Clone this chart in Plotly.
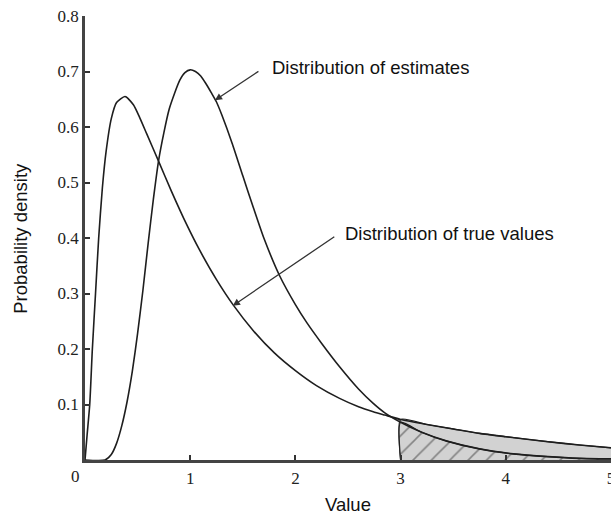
import plotly.graph_objects as go

# Density curves (value, probability density)
true_x = [0.00, 0.02, 0.045, 0.07, 0.10, 0.13, 0.165, 0.20, 0.25, 0.30, 0.38, 0.46, 0.52,
          0.586, 0.70, 0.82, 0.967, 1.09, 1.25, 1.41, 1.60, 1.80, 2.00, 2.20, 2.42, 2.60,
          2.74, 2.85, 3.00, 3.25, 3.50, 3.75, 4.00, 4.40, 4.70, 5.00]
true_y = [0.000, 0.045, 0.100, 0.200, 0.300, 0.400, 0.490, 0.555, 0.615, 0.644, 0.655, 0.640, 0.617,
          0.588, 0.538, 0.485, 0.424, 0.378, 0.325, 0.279, 0.233, 0.193, 0.161, 0.134, 0.111, 0.096,
          0.087, 0.081, 0.073, 0.064, 0.056, 0.048, 0.042, 0.033, 0.027, 0.022]

est_x = [0.00, 0.19, 0.25, 0.30, 0.35, 0.40, 0.45, 0.50, 0.55, 0.60, 0.65, 0.70, 0.75, 0.80,
         0.85, 0.90, 0.95, 1.00, 1.05, 1.10, 1.15, 1.20, 1.25, 1.30, 1.40, 1.50, 1.60, 1.70,
         1.85, 2.00, 2.11, 2.25, 2.42, 2.60, 2.74, 2.85, 3.00, 3.20, 3.44, 3.75, 4.07, 4.40,
         4.70, 5.00]
est_y = [0.000, 0.000, 0.010, 0.030, 0.062, 0.105, 0.160, 0.228, 0.305, 0.390, 0.470, 0.540, 0.590, 0.632,
         0.660, 0.684, 0.698, 0.703, 0.700, 0.692, 0.678, 0.662, 0.645, 0.622, 0.570, 0.512, 0.455, 0.400,
         0.332, 0.280, 0.247, 0.210, 0.168, 0.128, 0.102, 0.085, 0.068, 0.050, 0.034, 0.020, 0.011, 0.006,
         0.003, 0.002]

x_ticks = [1, 2, 3, 4, 5]
y_ticks = [0.1, 0.2, 0.3, 0.4, 0.5, 0.6, 0.7, 0.8]
tail_start = 3.0

labels = {
    "estimates": "Distribution of estimates",
    "true": "Distribution of true values",
    "x": "Value",
    "y": "Probability density",
}

INK = "#1e1e1e"
SHADE = "#d2d2d2"


def tail(xs, ys):
    px = [x for x in xs if x >= tail_start]
    py = [y for x, y in zip(xs, ys) if x >= tail_start]
    return [px[0]] + px, [0] + py


fig = go.Figure()

# Upper tail of the true-value distribution (solid grey)
tx, ty = tail(true_x, true_y)
fig.add_trace(go.Scatter(x=tx, y=ty, mode="lines", fill="tozeroy",
                         fillcolor=SHADE, line=dict(color=INK, width=1.2, shape="spline", smoothing=0.6),
                         hoverinfo="skip", showlegend=False))

# Upper tail of the estimate distribution (hatched)
ex, ey = tail(est_x, est_y)
fig.add_trace(go.Scatter(x=ex, y=ey, mode="lines", fill="tozeroy",
                         fillpattern=dict(shape="/", bgcolor=SHADE, fgcolor="#333333",
                                          size=13, solidity=0.12),
                         line=dict(color=INK, width=1.2, shape="spline", smoothing=0.6),
                         hoverinfo="skip", showlegend=False))

fig.add_trace(go.Scatter(x=true_x, y=true_y, mode="lines",
                         line=dict(color=INK, width=1.6, shape="spline", smoothing=0.6),
                         name=labels["true"], showlegend=False))
fig.add_trace(go.Scatter(x=est_x, y=est_y, mode="lines",
                         line=dict(color=INK, width=1.6, shape="spline", smoothing=0.6),
                         name=labels["estimates"], showlegend=False))

sans = dict(family="Liberation Sans, Arial, sans-serif", size=18.5, color="#111111")
serif = dict(family="Liberation Serif, Times New Roman, serif", size=17, color="#222222")

annotations = [
    # arrows
    dict(x=1.235, y=0.648, ax=45, ay=-30, text="", showarrow=True, arrowhead=2,
         arrowsize=1.1, arrowwidth=1.3, arrowcolor="#333333"),
    dict(x=1.405, y=0.278, ax=103, ay=-70, text="", showarrow=True, arrowhead=2,
         arrowsize=1.1, arrowwidth=1.3, arrowcolor="#333333"),
    # curve labels
    dict(x=1.76, y=0.708, text=labels["estimates"], showarrow=False,
         xanchor="left", yanchor="middle", font=sans),
    dict(x=2.45, y=0.409, text=labels["true"], showarrow=False,
         xanchor="left", yanchor="middle", font=sans),
    # axis titles
    dict(xref="paper", yref="paper", x=-0.124, y=0.5, text=labels["y"], textangle=-90,
         showarrow=False, xanchor="center", yanchor="middle", font=sans),
    dict(xref="paper", yref="paper", x=0.5, y=-0.101, text=labels["x"],
         showarrow=False, xanchor="center", yanchor="middle", font=sans),
    # shared origin label
    dict(xref="paper", yref="paper", x=-0.019, y=-0.038, text="0",
         showarrow=False, xanchor="center", yanchor="middle", font=serif),
]

fig.update_layout(
    width=611, height=520,
    margin=dict(l=85, r=0, t=16, b=60),
    plot_bgcolor="white", paper_bgcolor="white",
    annotations=annotations,
    xaxis=dict(range=[0, 5], tickvals=x_ticks, ticks="inside", ticklen=5, tickwidth=1.5,
               tickcolor="#333333", showline=True, linecolor="#444444", linewidth=2.5,
               showgrid=False, zeroline=False, tickfont=serif, ticklabeloverflow="allow",
               ticklabelstandoff=1, automargin=False),
    yaxis=dict(range=[0, 0.8], tickvals=y_ticks, tickformat=".1f", ticks="inside", ticklen=5,
               tickwidth=1.5, tickcolor="#333333", showline=True, linecolor="#444444",
               linewidth=2.5, showgrid=False, zeroline=False, tickfont=serif, automargin=False),
)

fig.write_html("out.html")
